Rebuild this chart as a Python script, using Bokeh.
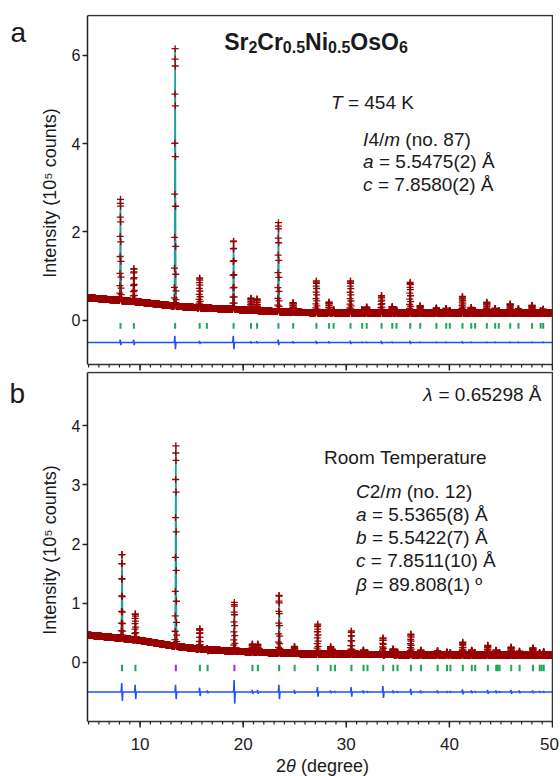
import numpy as np
from bokeh.plotting import figure
from bokeh.models import Label, FixedTicker, Range1d
from bokeh.layouts import column, row
from bokeh.embed import file_html
from bokeh.resources import INLINE

FONT = "Liberation Sans"
NB = "\u00a0"

# ---------------- data ----------------
tt_start, tt_end, tt_step = 4.9, 50.0, 0.01
peak_sigma = 0.03

# panel a : T = 454 K, I4/m
bg_x = [5, 8, 10, 13.5, 16, 19, 23, 27, 35, 50]
bg_a = [0.51, 0.45, 0.41, 0.32, 0.28, 0.25, 0.20, 0.17, 0.165, 0.16]
peaks_a = [8.10, 9.40, 13.40, 15.78, 16.48, 19.07, 20.76, 21.35, 23.42, 24.85,
           27.10, 28.33, 28.77, 30.41, 31.54, 31.98, 33.42, 34.46, 34.87, 36.20,
           37.17, 38.74, 39.69, 40.04, 41.27, 42.12, 42.50, 43.63, 44.44, 44.79,
           45.90, 46.70, 48.02, 48.85, 49.10]
tops_a = [2.74, 1.17, 6.15, 0.96, 0.24, 1.79, 0.50, 0.48, 2.21, 0.40,
          0.89, 0.41, 0.24, 0.89, 0.24, 0.30, 0.56, 0.31, 0.24, 0.86,
          0.33, 0.28, 0.27, 0.22, 0.54, 0.29, 0.22, 0.41, 0.27, 0.22,
          0.37, 0.26, 0.34, 0.22, 0.25]
diff_a = [0.06, 0.06, 0.15, 0.03, 0.0, 0.15, 0.02, 0.02, 0.06, 0.02,
          0.03, 0.02, 0.0, 0.03, 0.01, 0.01, 0.03, 0.01, 0.0, 0.03,
          0.01, 0.01, 0.01, 0.0, 0.02, 0.01, 0.0, 0.01, 0.01, 0.0,
          0.01, 0.01, 0.01, 0.0, 0.01]
refl_a = peaks_a

# panel b : room temperature, C2/m
bg_b = [0.46, 0.41, 0.37, 0.27, 0.22, 0.19, 0.16, 0.14, 0.13, 0.12]
peaks_b = [8.25, 9.55, 13.47, 15.80, 16.55, 19.15, 20.90, 21.42, 23.49, 24.99,
           27.23, 28.49, 28.91, 30.50, 31.67, 32.06, 33.58, 34.55, 34.97, 36.27,
           37.24, 38.86, 39.77, 40.10, 41.30, 42.17, 42.50, 43.73, 44.54, 44.87,
           46.00, 46.81, 48.11, 48.76, 49.15]
tops_b = [1.82, 0.78, 3.66, 0.55, 0.20, 0.95, 0.30, 0.30, 1.12, 0.26,
          0.63, 0.26, 0.17, 0.51, 0.20, 0.16, 0.37, 0.22, 0.17, 0.47,
          0.20, 0.19, 0.17, 0.16, 0.33, 0.20, 0.16, 0.28, 0.20, 0.16,
          0.25, 0.18, 0.24, 0.16, 0.18]
diff_b = [0.15, 0.12, 0.12, 0.07, 0.02, 0.20, 0.03, 0.03, 0.12, 0.03,
          0.08, 0.02, 0.01, 0.08, 0.02, 0.01, 0.10, 0.02, 0.01, 0.05,
          0.02, 0.02, 0.01, 0.01, 0.04, 0.02, 0.01, 0.03, 0.02, 0.01,
          0.03, 0.02, 0.02, 0.01, 0.01]
refl_b_main = [8.25, 9.55, 15.80, 16.55, 20.90, 21.42, 23.49, 24.99, 27.23, 28.49,
               28.91, 30.50, 31.67, 32.06, 33.58, 34.55, 34.97, 36.27, 37.24, 38.86,
               39.77, 40.10, 41.30, 42.17, 42.50, 43.73, 44.54, 44.70, 44.87, 46.00,
               46.81, 48.11, 48.76, 48.95, 49.15]
refl_b_second = [13.47, 19.15]

yticks_a = [0, 2, 4, 6]
yticks_b = [0, 1, 2, 3, 4]
xticks = [10, 20, 30, 40, 50]
xminor = list(range(5, 51))

# ---------------- colours ----------------
C_OBS = "#9a0000"
C_CALC = "#1f9f9f"
C_TICK = "#23a35c"
C_TICK2 = "#9b30d9"
C_DIFF = "#1f4fff"
C_TEXT = "#1a1a1a"
C_AX = "#222222"

# ---------------- text width helper (Arial / Liberation metrics) ----------------
REG = {' ': 278, NB: 278, '(': 333, ')': 333, '.': 278, '/': 278, '=': 584, 'A': 667, 'Å': 667,
       'C': 722, 'I': 278, 'K': 667, 'R': 722, 'T': 611, 'a': 556, 'b': 556, 'c': 500,
       'd': 556, 'e': 556, 'g': 556, 'm': 833, 'n': 556, 'o': 556, 'p': 556, 'r': 333,
       't': 278, 'u': 556, 'λ': 520, 'β': 575, 'θ': 556, 'º': 365}
BOLD = {'S': 667, 'r': 389, 'C': 722, 'N': 722, 'i': 278, 'O': 778, 's': 556, '.': 278}


def text_w(t, size, style):
    tbl = BOLD if "bold" in style else REG
    return sum(tbl.get(ch, 556) for ch in t) * size / 1000.0


def rich(p, x, y, pieces, align="left"):
    pieces = [(t.replace(" ", NB), s, st, dy) for t, s, st, dy in pieces]
    widths = [text_w(t, s, st) for t, s, st, dy in pieces]
    total = sum(widths)
    off = {"left": 0.0, "center": -total / 2.0, "right": -total}[align]
    for (t, s, st, dy), w in zip(pieces, widths):
        p.add_layout(Label(x=x, y=y, x_offset=off, y_offset=dy, text=t,
                           text_font=FONT, text_font_size=f"{s}px",
                           text_font_style=st, text_color=C_TEXT,
                           text_align="left", text_baseline="alphabetic"))
        off += w


# ---------------- profile construction ----------------
tt = np.arange(tt_start, tt_end + tt_step / 2, tt_step)


def profile(bg_vals, peaks, tops, diffs):
    bg = np.interp(tt, bg_x, bg_vals)
    calc = bg.copy()
    dshape = np.zeros_like(tt)
    for pk, top, d in zip(peaks, tops, diffs):
        amp = max(top - np.interp(pk, bg_x, bg_vals), 0.0)
        u = (tt - pk) / peak_sigma
        g = np.exp(-0.5 * u * u)
        calc += amp * g
        dshape += -d * u * g / 0.607
    obs = calc + dshape
    return obs, calc, -0.5 + dshape


obs_a, calc_a, dif_a = profile(bg_a, peaks_a, tops_a, diff_a)
obs_b, calc_b, dif_b = profile(bg_b, peaks_b, tops_b, diff_b)

xa_px = 465.0 / (tt_end - tt_start)    # pixels per degree


def panel(y0, y1, yticks, top_border):
    px = 349.0 / (y1 - y0)             # pixels per intensity unit
    p = figure(frame_width=466, frame_height=357,
               x_range=Range1d(tt_start, tt_end + 1.0 / xa_px),
               y_range=Range1d(y0 - 7.0 / px, y1 + 1.0 / px),
               x_axis_location=None,
               output_backend="svg", toolbar_location=None,
               min_border_left=59, min_border_right=0,
               min_border_top=top_border, min_border_bottom=0)
    p.grid.visible = False
    p.outline_line_color = None
    ya = p.yaxis[0]
    ya.ticker = FixedTicker(ticks=yticks)
    ya.bounds = (y0, y1)
    ya.major_tick_out = 5
    ya.major_tick_in = 0
    ya.minor_tick_out = 0
    ya.minor_tick_in = 0
    ya.axis_line_width = 1.5
    ya.axis_line_color = C_AX
    ya.major_tick_line_width = 1.5
    ya.major_tick_line_color = C_AX
    ya.major_label_text_font = FONT
    ya.major_label_text_font_size = "16px"
    ya.major_label_text_color = C_TEXT
    ya.major_label_standoff = 2
    ya.axis_label = "Intensity (10\u2075 counts)"
    ya.axis_label_text_font = FONT
    ya.axis_label_text_font_size = "18px"
    ya.axis_label_text_font_style = "normal"
    ya.axis_label_text_color = C_TEXT
    ya.axis_label_standoff = 9
    return p, px


def decorate(p, y0, y1, px):
    # frame box and outward bottom ticks
    p.line([tt_start, tt_end, tt_end, tt_start], [y1, y1, y0, y0], line_color="#333333", line_width=1.5)
    p.segment(x0=xminor, y0=[y0] * len(xminor), x1=xminor, y1=[y0 - 3.0 / px] * len(xminor),
              line_color=C_AX, line_width=1.2)
    p.segment(x0=xticks, y0=[y0] * len(xticks), x1=xticks, y1=[y0 - 6.0 / px] * len(xticks),
              line_color=C_AX, line_width=1.5)


def blank_fig(w, h):
    f = figure(frame_width=w, frame_height=h, x_range=Range1d(0, w), y_range=Range1d(h, 0),
               x_axis_location=None, y_axis_location=None,
               min_border=0, min_border_left=0, min_border_right=0,
               min_border_top=0, min_border_bottom=0,
               output_backend="svg", toolbar_location=None)
    f.grid.visible = False
    f.outline_line_color = None
    return f


# ---------------- panel a ----------------
ya0, ya1 = -1.0, 6.9
pa, pa_px = panel(ya0, ya1, yticks_a, 14)
pa.line(tt, calc_a, line_color=C_CALC, line_width=1.5)
pa.scatter(tt, obs_a, marker="cross", size=7, line_color=C_OBS, line_width=1.3)
pa.segment(x0=refl_a, y0=-0.06, x1=refl_a, y1=-0.19, line_color=C_TICK, line_width=2)
pa.line(tt, dif_a, line_color=C_DIFF, line_width=1.5)
decorate(pa, ya0, ya1, pa_px)

rich(pa, 27.06, 6.289, [("Sr", 23, "bold", 0), ("2", 16, "bold", -5),
                        ("Cr", 23, "bold", 0), ("0.5", 16, "bold", -5),
                        ("Ni", 23, "bold", 0), ("0.5", 16, "bold", -5),
                        ("OsO", 23, "bold", 0), ("6", 16, "bold", -5)], align="center")
rich(pa, 28.52, 4.93, [("T", 19, "italic", 0), (" = 454 K", 19, "normal", 0)])
rich(pa, 31.63, 4.093, [("I", 19, "italic", 0), ("4/", 19, "normal", 0),
                        ("m", 19, "italic", 0), (" (no. 87)", 19, "normal", 0)])
rich(pa, 31.63, 3.584, [("a", 19, "italic", 0), (" = 5.5475(2) Å", 19, "normal", 0)])
rich(pa, 31.63, 3.075, [("c", 19, "italic", 0), (" = 7.8580(2) Å", 19, "normal", 0)])

# ---------------- panel b ----------------
yb0, yb1 = -1.0, 4.9
pb, pb_px = panel(yb0, yb1, yticks_b, 0)
pb.line(tt, calc_b, line_color=C_CALC, line_width=1.5)
pb.scatter(tt, obs_b, marker="cross", size=7, line_color=C_OBS, line_width=1.3)
pb.segment(x0=refl_b_main, y0=-0.04, x1=refl_b_main, y1=-0.15, line_color=C_TICK, line_width=2)
pb.segment(x0=refl_b_second, y0=-0.04, x1=refl_b_second, y1=-0.15, line_color=C_TICK2, line_width=2)
pb.line(tt, dif_b, line_color=C_DIFF, line_width=1.5)
decorate(pb, yb0, yb1, pb_px)

rich(pb, 48.93, 4.528, [("λ", 19, "italic", 0), (" = 0.65298 Å", 19, "normal", 0)], align="right")
rich(pb, 27.84, 3.463, [("Room Temperature", 19, "normal", 0)])
rich(pb, 30.95, 2.888, [("C", 19, "italic", 0), ("2/", 19, "normal", 0),
                        ("m", 19, "italic", 0), (" (no. 12)", 19, "normal", 0)])
rich(pb, 30.95, 2.499, [("a", 19, "italic", 0), (" = 5.5365(8) Å", 19, "normal", 0)])
rich(pb, 30.95, 2.110, [("b", 19, "italic", 0), (" = 5.5422(7) Å", 19, "normal", 0)])
rich(pb, 30.95, 1.722, [("c", 19, "italic", 0), (" = 7.8511(10) Å", 19, "normal", 0)])
rich(pb, 30.95, 1.316, [("β", 19, "italic", 0), (" = 89.808(1) º", 19, "normal", 0)])

# ---------------- panel letters ----------------
side = blank_fig(28, 728)
rich(side, 10, 32, [("a", 28, "normal", 0)])
rich(side, 9, 393, [("b", 28, "normal", 0)])

# ---------------- x tick labels and x-axis title (aligned with the panels' x scale) ----------------
strip = figure(frame_width=473, frame_height=48,
               x_range=Range1d(tt_start, tt_start + 473.0 / xa_px), y_range=Range1d(48, 0),
               x_axis_location=None, y_axis_location=None,
               min_border_left=87, min_border_right=0, min_border_top=0, min_border_bottom=0,
               output_backend="svg", toolbar_location=None)
strip.grid.visible = False
strip.outline_line_color = None
for v in xticks:
    strip.add_layout(Label(x=v, y=15, x_offset=(-3 if v == xticks[-1] else 0), text=str(v),
                           text_font=FONT, text_font_size="17px",
                           text_color=C_TEXT, text_align="center", text_baseline="alphabetic"))
rich(strip, 27.69, 37, [("2", 18, "normal", 0), ("θ", 18, "italic", 0),
                        (" (degree)", 18, "normal", 0)], align="center")

layout = column(row(side, column(pa, pb, spacing=0), spacing=0), strip, spacing=0)
open("out.html", "w").write(file_html(layout, INLINE))
